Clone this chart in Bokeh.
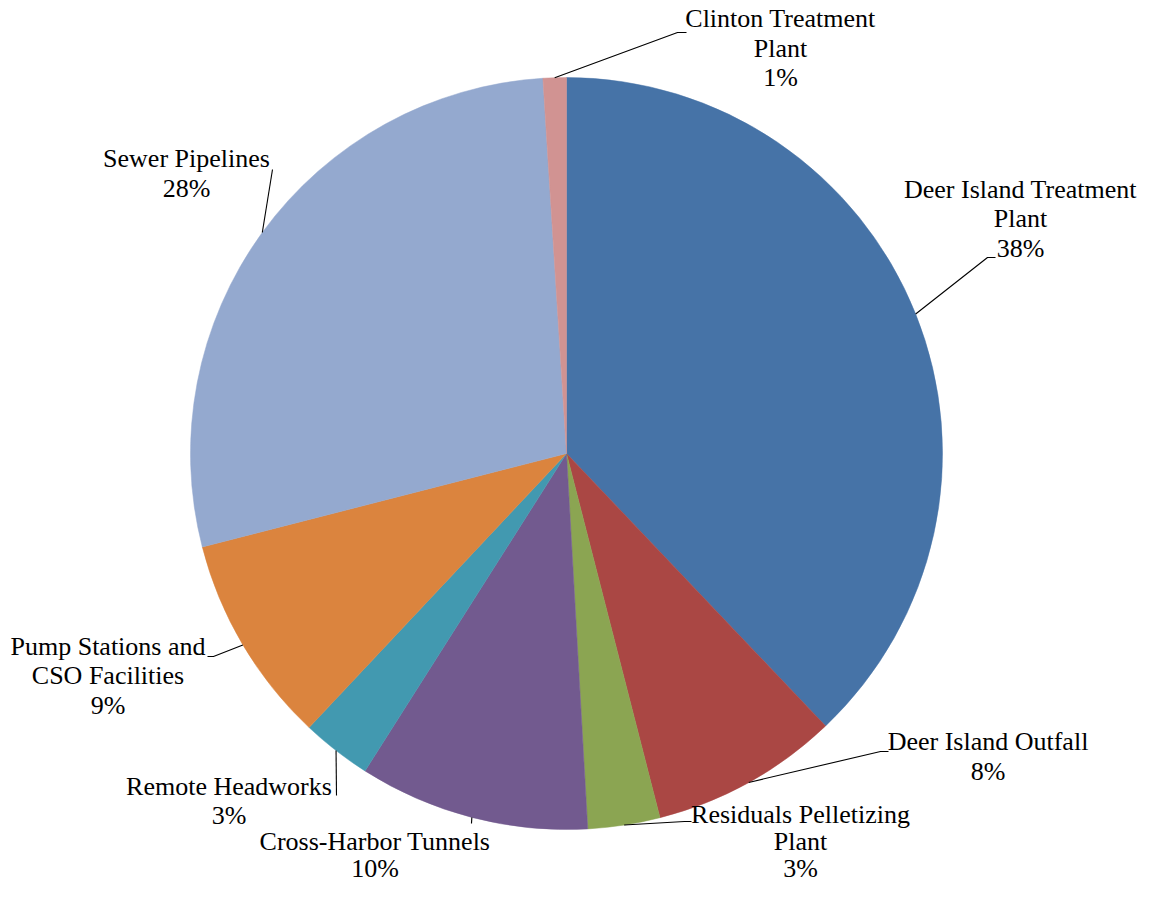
import math
from bokeh.plotting import figure
from bokeh.models import Range1d
from bokeh.core.properties import value
from bokeh.embed import file_html
from bokeh.resources import INLINE

# ---- data ----
categories = [
    "Deer Island Treatment Plant",
    "Deer Island Outfall",
    "Residuals Pelletizing Plant",
    "Cross-Harbor Tunnels",
    "Remote Headworks",
    "Pump Stations and CSO Facilities",
    "Sewer Pipelines",
    "Clinton Treatment Plant",
]
shares = [37.9, 8.1, 3.1, 9.9, 3.0, 9.0, 28.0, 1.0]
label_lines = [
    ["Deer Island Treatment", "Plant"],
    ["Deer Island Outfall"],
    ["Residuals Pelletizing", "Plant"],
    ["Cross-Harbor Tunnels"],
    ["Remote Headworks"],
    ["Pump Stations and", "CSO Facilities"],
    ["Sewer Pipelines"],
    ["Clinton Treatment", "Plant"],
]
colors = ["#4673A7", "#AA4744", "#8BA552", "#725A8F", "#4299B0", "#DB843E", "#94A9CF", "#D19392"]

# ---- layout (reference pixel coordinates) ----
W, H = 1141, 885
PAGE_H = 901
CX, CY, R = 566, 453, 376
FONT = "Liberation Serif"
FS = "26px"
TEXT_DY = -1.0   # baseline offset from cap centre as rendered
# label centre x, first-line cap-centre y, line spacing
label_pos = [(1020, 189.5, 29.7), (987.5, 742, 29.7), (800, 815, 27), (374.5, 842, 27),
             (228.5, 786.5, 29.7), (107.5, 646.5, 29.7), (186, 159, 29.7), (780, 19, 29.7)]
# leader line points after the slice-edge start point
leader_pts = [
    [(987, 257), (995, 257)],
    [(880, 751), (888, 751)],
    [(684, 821), (691, 821)],
    [(471, 823)],
    [(336, 795)],
    [(213, 656), (207, 656)],
    [(272, 169)],
    [(677, 32), (686, 32)],
]

def Y(py):
    return PAGE_H - py

p = figure(width=W, height=H, output_backend="svg", toolbar_location=None,
           x_range=Range1d(0, W), y_range=Range1d(PAGE_H - H, PAGE_H),
           min_border=0, outline_line_color=None, background_fill_color="white")
p.axis.visible = False
p.grid.visible = False

total = sum(shares)
start = math.pi / 2
starts, ends, mids = [], [], []
for v in shares:
    a = 2 * math.pi * v / total
    starts.append(start)
    ends.append(start - a)
    mids.append(start - a / 2)
    start -= a

p.wedge(x=[CX] * len(shares), y=[Y(CY)] * len(shares), radius=R,
        start_angle=ends, end_angle=starts, direction="anticlock",
        fill_color=colors, line_color=colors, line_width=0.5)

for i, m in enumerate(mids):
    sx = CX + R * math.cos(m)
    sy = CY - R * math.sin(m)
    xs = [sx] + [pt[0] for pt in leader_pts[i]]
    ys = [Y(sy)] + [Y(pt[1]) for pt in leader_pts[i]]
    p.line(xs, ys, line_color="black", line_width=1.1)

for i, v in enumerate(shares):
    lines = label_lines[i] + [f"{round(v)}%"]
    lx, ly, lh = label_pos[i]
    for k, t in enumerate(lines):
        p.text(x=[lx], y=[Y(ly + k * lh + TEXT_DY)], text=[t],
               text_font=value(FONT), text_font_size=FS,
               text_align="center", text_baseline="alphabetic", text_color="black")

open("out.html", "w").write(file_html(p, INLINE))
